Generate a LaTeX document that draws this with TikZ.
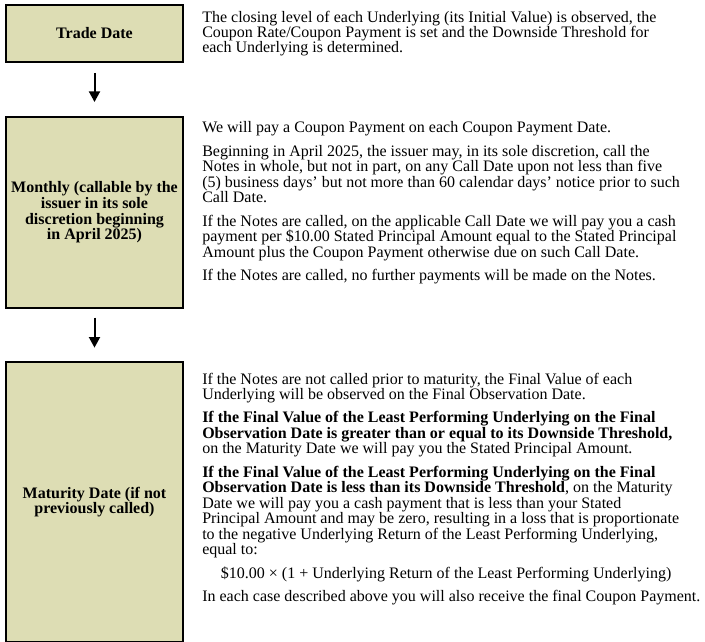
\documentclass[tikz,border=0pt]{standalone}
\usepackage{fontspec}
\setmainfont{Liberation Serif}
\usetikzlibrary{arrows.meta}
\definecolor{boxfill}{RGB}{221,221,180}
\tikzset{
  stagebox/.style={draw=black, line width=1.5pt, fill=boxfill, minimum width=132.75pt,
    align=center, font=\fontsize{12pt}{11.8pt}\selectfont\bfseries, inner sep=2pt},
  desc/.style={anchor=north west, inner sep=0pt, align=left,
    font=\fontsize{12pt}{11.6pt}\selectfont},
  flowarrow/.style={line width=1.5pt, -{Triangle[width=8.25pt,length=8pt]}},
}
\begin{document}
\begin{tikzpicture}[x=0.75pt,y=-0.75pt]
\useasboundingbox (0,0) rectangle (705,641);
\node[stagebox, minimum height=42.75pt] (trade) at (94.5,33.5) {Trade Date};
\node[stagebox, minimum height=143.25pt] (monthly) at (94.5,212.5)
  {Monthly (callable by the\\issuer in its sole\\discretion beginning\\in April 2025)};
\node[stagebox, minimum height=210pt] (maturity) at (94.5,502)
  {Maturity Date (if not\\previously called)};

\draw[flowarrow, shorten <=7.5pt, shorten >=10.5pt] (trade.south) -- (monthly.north);
\draw[flowarrow, shorten <=6.5pt, shorten >=10pt] (monthly.south) -- (maturity.north);

\node[desc] (tradetext) at (202,10.5) {The closing level of each Underlying (its Initial Value) is observed, the\\
Coupon Rate/Coupon Payment is set and the Downside Threshold for\\
each Underlying is determined.};

\node[desc] (monthlytext) at (202,121.5) {We will pay a Coupon Payment on each Coupon Payment Date.\\[6pt]
Beginning in April 2025, the issuer may, in its sole discretion, call the\\
Notes in whole, but not in part, on any Call Date upon not less than five\\
(5) business days’ but not more than 60 calendar days’ notice prior to such\\
Call Date.\\[6pt]
If the Notes are called, on the applicable Call Date we will pay you a cash\\
payment per \$10.00 Stated Principal Amount equal to the Stated Principal\\
Amount plus the Coupon Payment otherwise due on such Call Date.\\[6pt]
If the Notes are called, no further payments will be made on the Notes.};

\node[desc] (maturitytext) at (202,372.5) {If the Notes are not called prior to maturity, the Final Value of each\\
Underlying will be observed on the Final Observation Date.\\[6pt]
\textbf{If the Final Value of the Least Performing Underlying on the Final}\\
\textbf{Observation Date is greater than or equal to its Downside Threshold,}\\
on the Maturity Date we will pay you the Stated Principal Amount.\\[6pt]
\textbf{If the Final Value of the Least Performing Underlying on the Final}\\
\textbf{Observation Date is less than its Downside Threshold}, on the Maturity\\
Date we will pay you a cash payment that is less than your Stated\\
Principal Amount and may be zero, resulting in a loss that is proportionate\\
to the negative Underlying Return of the Least Performing Underlying,\\
equal to:\\[6pt]
\hspace*{14pt}\$10.00 × (1 + Underlying Return of the Least Performing Underlying)\\[6pt]
In each case described above you will also receive the final Coupon Payment.};
\end{tikzpicture}
\end{document}
